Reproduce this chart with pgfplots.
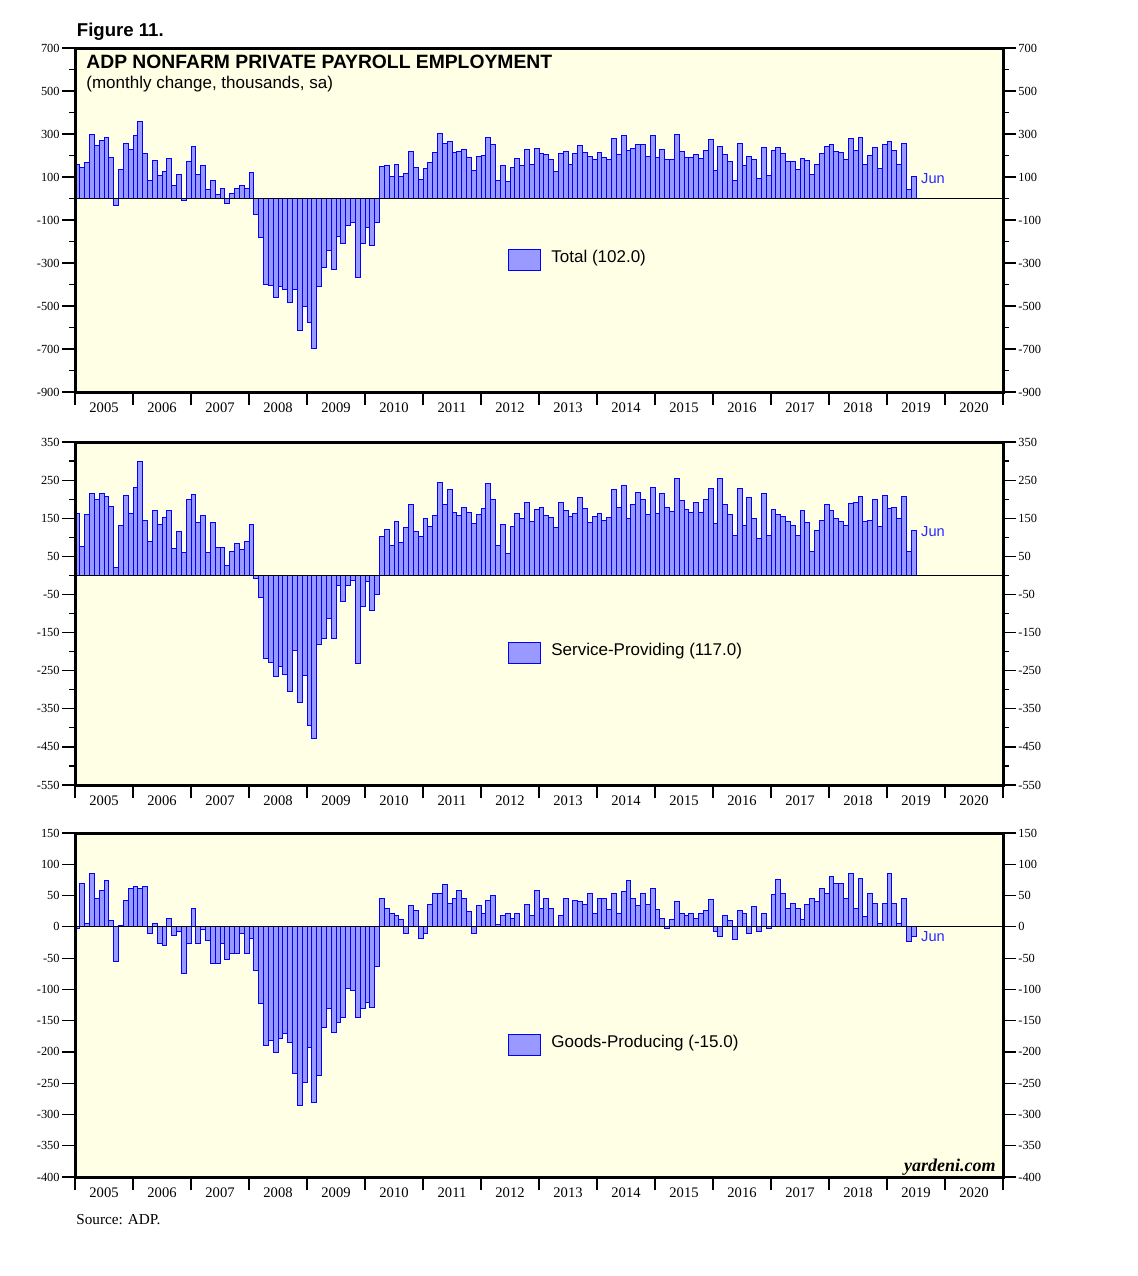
\documentclass[border=0pt]{standalone}
\usepackage{pgfplots}
\pgfplotsset{compat=1.18}
\usepackage{pgfplotstable}
\usepackage{fontspec}
\setmainfont{Liberation Serif}
\newfontfamily\arial{Liberation Sans}
\definecolor{bgy}{RGB}{255,255,230}
\definecolor{barfill}{RGB}{153,153,255}
\definecolor{baredge}{RGB}{0,0,255}
\definecolor{junblue}{RGB}{40,40,255}

\pgfplotstableread{
m T S G
1 157 163 -3
2 143 77 70
3 166 160 5
4 300 215 85
5 245 199 45
6 272 215 58
7 282 207 74
8 189 181 10
9 -32 21 -56
10 134 131 2
11 254 210 42
12 226 163 62
13 295 231 64
14 360 299 61
15 208 144 64
16 83 89 -10
17 175 171 5
18 106 134 -27
19 125 152 -30
20 185 171 13
21 60 71 -14
22 111 115 -8
23 -9 60 -75
24 171 199 -27
25 240 213 29
26 111 139 -27
27 152 157 -5
28 42 60 -22
29 83 139 -58
30 18 73 -59
31 46 73 -27
32 -23 26 -53
33 23 63 -42
34 46 84 -42
35 60 68 -11
36 46 89 -43
37 120 134 -18
38 -74 -8 -70
39 -180 -58 -123
40 -402 -218 -190
41 -406 -228 -182
42 -462 -265 -201
43 -411 -239 -179
44 -425 -260 -171
45 -485 -304 -185
46 -425 -197 -235
47 -614 -333 -286
48 -503 -262 -249
49 -577 -394 -193
50 -697 -428 -281
51 -411 -181 -238
52 -323 -165 -161
53 -240 -113 -131
54 -328 -165 -169
55 -175 -26 -153
56 -208 -68 -145
57 -125 -26 -99
58 -111 -13 -101
59 -369 -231 -145
60 -208 -81 -131
61 -134 -16 -121
62 -217 -92 -129
63 -111 -50 -64
64 149 102 45
65 153 121 30
66 102 79 22
67 158 142 18
68 102 87 11
69 116 126 -10
70 219 186 34
71 144 115 26
72 88 102 -18
73 140 150 -11
74 167 129 35
75 214 157 54
76 302 244 54
77 256 186 67
78 265 226 37
79 214 165 46
80 219 157 58
81 228 178 46
82 191 165 24
83 130 136 -11
84 195 160 34
85 200 176 22
86 284 241 42
87 251 199 50
88 84 79 3
89 153 134 18
90 79 58 21
91 144 129 13
92 186 163 21
93 153 150 0
94 228 192 35
95 158 142 18
96 233 173 58
97 209 178 29
98 205 157 46
99 181 152 29
100 126 126 0
101 209 192 18
102 219 171 46
103 158 155 0
104 209 163 42
105 247 205 40
106 214 176 35
107 195 139 54
108 181 155 22
109 214 163 46
110 191 144 45
111 181 152 27
112 279 226 53
113 205 178 22
114 293 236 56
115 223 150 74
116 233 186 45
117 251 218 34
118 251 199 53
119 195 160 35
120 293 231 61
121 191 163 27
122 228 215 13
123 181 178 -2
124 181 168 11
125 298 255 40
126 219 197 22
127 191 173 18
128 191 165 22
129 205 192 13
130 186 165 22
131 223 199 26
132 274 228 43
133 130 136 -8
134 242 255 -16
135 205 186 18
136 172 160 10
137 84 105 -21
138 256 228 26
139 153 131 21
140 195 205 -11
141 181 150 32
142 93 97 -8
143 237 215 21
144 107 105 -2
145 223 173 51
146 237 160 75
147 209 155 54
148 172 142 30
149 172 131 38
150 135 105 29
151 186 171 11
152 177 139 35
153 112 63 46
154 158 118 40
155 209 144 61
156 242 186 54
157 251 171 80
158 219 150 70
159 214 142 70
160 181 131 46
161 279 189 86
162 223 192 29
163 284 207 77
164 158 142 16
165 200 144 54
166 237 199 38
167 140 129 6
168 251 210 38
169 265 176 86
170 223 178 38
171 158 150 6
172 256 207 45
173 42 63 -24
174 102 117 -15
}\adp

\newcommand\ytfont{\fontsize{6.2}{7}\selectfont}
\newcommand\xtfont{\fontsize{7.3}{8}\selectfont}
\newcommand\legfont{\arial\fontsize{8.5}{10}\selectfont}
\newcommand\junfont{\arial\fontsize{7.3}{8}\selectfont}

\pgfplotsset{
 panel/.style={
  scale only axis, width=464pt, anchor=south west,
  xmin=0, xmax=192,
  axis background/.style={fill=bgy},
  axis line style={line width=1.5pt},
  axis on top,
  tick align=outside,
  major tick length=6.5pt, minor tick length=3pt,
  xtick={0,12,...,192}, xticklabels={},
  xtick pos=left, ytick pos=left,
  x tick style={line width=1pt, black},
  y tick style={line width=0.6pt, black},
  extra x ticks={6,18,...,186},
  extra x tick labels={2005,2006,2007,2008,2009,2010,2011,2012,2013,2014,2015,2016,2017,2018,2019,2020},
  extra x tick style={major tick length=0pt},
  xticklabel style={font=\xtfont, inner sep=0pt, yshift=-5pt},
  yticklabel style={font=\ytfont, inner sep=1pt},
  legend style={at={(0.4666,0.385)}, anchor=west, draw=none, fill=none,
    inner sep=0pt, nodes={inner sep=0pt}, font=\legfont},
 },
 rpanel/.style={
  scale only axis, width=464pt, anchor=south west,
  xmin=0, xmax=192, hide x axis,
  axis y line*=right, tick align=outside,
  axis line style={line width=1.5pt},
  major tick length=6.5pt, minor tick length=3pt,
  y tick style={line width=0.6pt, black},
  yticklabel style={font=\ytfont, inner sep=1pt},
 },
 barstyle/.style={ybar, bar width=1, fill=barfill, draw=baredge, line width=0.5pt,
   legend image code/.code={\draw[fill=barfill, draw=baredge, line width=0.5pt] (0pt,-6.2pt) rectangle (16pt,4.3pt); \path (21pt,0pt);}},
}

\begin{document}
\begin{tikzpicture}
\useasboundingbox (0,0) rectangle (569pt,-638pt);

\node[anchor=base west, inner sep=0pt, font=\arial\bfseries\fontsize{9.3}{11}\selectfont] at (38.25pt,-18.3pt) {Figure 11.};

% ---------- Panel 1: Total ----------
\begin{axis}[panel, at={(37.5pt,-196pt)}, height=172pt,
  ymin=-900, ymax=700,
  ytick={-900,-700,-500,-300,-100,100,300,500,700},
  yticklabels={-900,-700,-500,-300,-100,100,300,500,700},
  minor ytick={-800,-600,-400,-200,0,200,400,600}]
\addplot[barstyle] table[x expr=\thisrow{m}-0.5, y=T]{\adp};
\addlegendentry{Total (102.0)}
\draw[black, line width=0.6pt] (axis cs:0,0) -- (axis cs:192,0);
\node[anchor=west, inner sep=0pt, text=junblue, font=\junfont] at (axis cs:175,95) {Jun};
\end{axis}
\begin{axis}[rpanel, at={(37.5pt,-196pt)}, height=172pt,
  ymin=-900, ymax=700,
  ytick={-900,-700,-500,-300,-100,100,300,500,700},
  yticklabels={-900,-700,-500,-300,-100,100,300,500,700},
  minor ytick={-800,-600,-400,-200,0,200,400,600}]
\end{axis}
\node[anchor=base west, inner sep=0pt, font=\arial\bfseries\fontsize{9.65}{11}\selectfont] at (43pt,-34pt) {ADP NONFARM PRIVATE PAYROLL EMPLOYMENT};
\node[anchor=base west, inner sep=0pt, font=\arial\fontsize{8.5}{10}\selectfont] at (43pt,-44pt) {(monthly change, thousands, sa)};

% ---------- Panel 2: Service-Providing ----------
\begin{axis}[panel, at={(37.5pt,-392.5pt)}, height=171.5pt,
  ymin=-550, ymax=350,
  ytick={-550,-450,-350,-250,-150,-50,50,150,250,350},
  yticklabels={-550,-450,-350,-250,-150,-50,50,150,250,350},
  minor ytick={-500,-400,-300,-200,-100,0,100,200,300}]
\addplot[barstyle] table[x expr=\thisrow{m}-0.5, y=S]{\adp};
\addlegendentry{Service-Providing (117.0)}
\draw[black, line width=0.6pt] (axis cs:0,0) -- (axis cs:192,0);
\node[anchor=west, inner sep=0pt, text=junblue, font=\junfont] at (axis cs:175,114) {Jun};
\end{axis}
\begin{axis}[rpanel, at={(37.5pt,-392.5pt)}, height=171.5pt,
  ymin=-550, ymax=350,
  ytick={-550,-450,-350,-250,-150,-50,50,150,250,350},
  yticklabels={-550,-450,-350,-250,-150,-50,50,150,250,350},
  minor ytick={-500,-400,-300,-200,-100,0,100,200,300}]
\end{axis}

% ---------- Panel 3: Goods-Producing ----------
\begin{axis}[panel, at={(37.5pt,-588.5pt)}, height=172pt,
  ymin=-400, ymax=150,
  ytick={-400,-350,-300,-250,-200,-150,-100,-50,0,50,100,150},
  yticklabels={-400,-350,-300,-250,-200,-150,-100,-50,0,50,100,150}]
\addplot[barstyle] table[x expr=\thisrow{m}-0.5, y=G]{\adp};
\addlegendentry{Goods-Producing (-15.0)}
\draw[black, line width=0.6pt] (axis cs:0,0) -- (axis cs:192,0);
\node[anchor=west, inner sep=0pt, text=junblue, font=\junfont] at (axis cs:175,-16) {Jun};
\node[anchor=base east, inner sep=0pt, font=\bfseries\itshape\fontsize{9}{10}\selectfont] at ([xshift=-3.5pt,yshift=3pt]rel axis cs:1,0) {yardeni.com};
\end{axis}
\begin{axis}[rpanel, at={(37.5pt,-588.5pt)}, height=172pt,
  ymin=-400, ymax=150,
  ytick={-400,-350,-300,-250,-200,-150,-100,-50,0,50,100,150},
  yticklabels={-400,-350,-300,-250,-200,-150,-100,-50,0,50,100,150}]
\end{axis}

\node[anchor=base west, inner sep=0pt, font=\fontsize{7.6}{9}\selectfont] at (38pt,-612pt) {Source: ADP.};
\end{tikzpicture}
\end{document}
